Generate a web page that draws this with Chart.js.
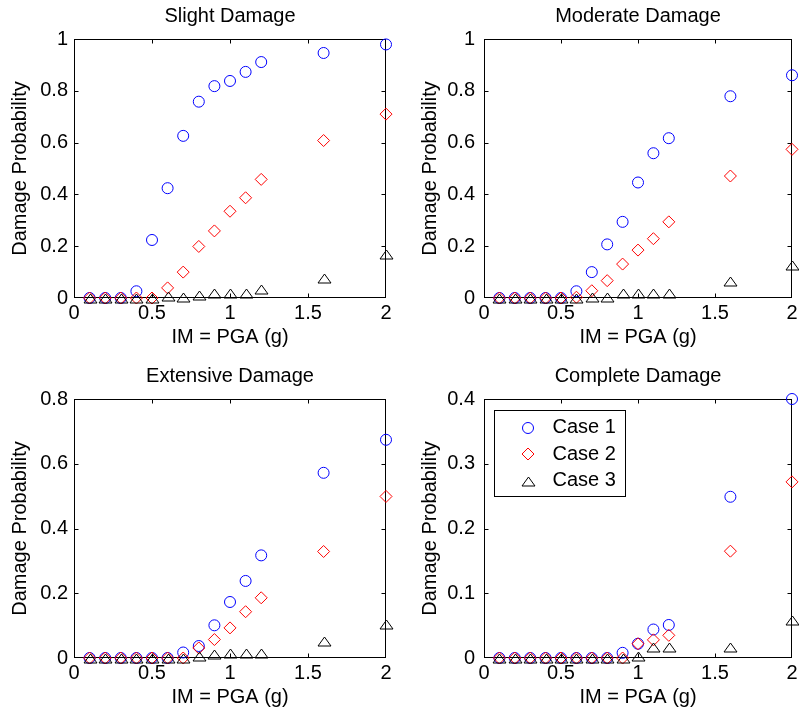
<!DOCTYPE html>
<html lang="en">
<head>
    <meta charset="UTF-8">
    <title>Damage Probability vs IM</title>
    <script src="https://cdn.jsdelivr.net/npm/chart.js"></script>
    <style>
        * { margin: 0; padding: 0; box-sizing: border-box; }
        body {
            background: #fff;
            width: 799px;
            height: 713px;
            overflow: hidden;
            position: relative;
        }
        .panel { position: absolute; }
    </style>
</head>
<body>
    <div class="panel" style="left:0;top:0"><canvas id="slight" width="400" height="360"></canvas></div>
    <div class="panel" style="left:410px;top:0"><canvas id="moderate" width="389" height="360"></canvas></div>
    <div class="panel" style="left:0;top:360px"><canvas id="extensive" width="400" height="360"></canvas></div>
    <div class="panel" style="left:410px;top:360px"><canvas id="complete" width="389" height="360"></canvas></div>

    <script>
        // IM = PGA values (g)
        const pga = [0.1, 0.2, 0.3, 0.4, 0.5, 0.6, 0.7, 0.8, 0.9, 1.0, 1.1, 1.2, 1.6, 2.0];
        const caseNames = ['Case 1', 'Case 2', 'Case 3'];

        // Slight damage
        const slightCase1 = [0, 0, 0, 0.026, 0.224, 0.424, 0.626, 0.758, 0.818, 0.838, 0.873, 0.911, 0.946, 0.979];
        const slightCase2 = [0, 0, 0, 0, 0, 0.039, 0.10, 0.199, 0.259, 0.335, 0.387, 0.458, 0.608, 0.71];
        const slightCase3 = [0, 0, 0, 0, 0, 0.008, 0.004, 0.012, 0.018, 0.018, 0.018, 0.033, 0.076, 0.168];

        // Moderate damage
        const moderateCase1 = [0, 0, 0, 0, 0, 0.026, 0.10, 0.207, 0.294, 0.446, 0.559, 0.617, 0.779, 0.86];
        const moderateCase2 = [0, 0, 0, 0, 0, 0.003, 0.028, 0.067, 0.131, 0.185, 0.229, 0.294, 0.471, 0.574];
        const moderateCase3 = [0, 0, 0, 0, 0, 0.001, 0.003, 0.003, 0.018, 0.018, 0.018, 0.018, 0.065, 0.129];

        // Extensive damage
        const extensiveCase1 = [0, 0, 0, 0, 0, 0, 0.017, 0.037, 0.101, 0.173, 0.238, 0.317, 0.572, 0.674];
        const extensiveCase2 = [0, 0, 0, 0, 0, 0, 0, 0.031, 0.057, 0.093, 0.143, 0.186, 0.329, 0.499];
        const extensiveCase3 = [0, 0, 0, 0, 0, 0, 0.001, 0.005, 0.012, 0.016, 0.016, 0.016, 0.054, 0.104];

        // Complete damage
        const completeCase1 = [0, 0, 0, 0, 0, 0, 0, 0, 0.008, 0.022, 0.044, 0.051, 0.249, 0.4];
        const completeCase2 = [0, 0, 0, 0, 0, 0, 0, 0, 0, 0.022, 0.028, 0.035, 0.165, 0.272];
        const completeCase3 = [0, 0, 0, 0, 0, 0, 0, 0, 0, 0.003, 0.017, 0.017, 0.017, 0.058];

        // x ticks
        const xTicks = [0, 0.5, 1, 1.5, 2];

        Chart.defaults.font.family = "'Liberation Sans', Arial, sans-serif";
        Chart.defaults.font.size = 20;
        Chart.defaults.color = '#000';

        const markers = [
            { style: 'circle', radius: 5.5, color: '#0000ff' },
            { style: 'rectRot', radius: 6, color: '#ff0000' },
            { style: 'tri', radius: 0, color: '#000000' }
        ];

        // MATLAB-like '^' marker: wider than tall, centred on its box
        function drawTriangle(ctx, x, y) {
            const cx = Math.round(x) + 0.5, cy = Math.round(y) + 0.5;
            ctx.beginPath();
            ctx.moveTo(cx, cy - 4.5);
            ctx.lineTo(cx + 6.5, cy + 4.5);
            ctx.lineTo(cx - 6.5, cy + 4.5);
            ctx.closePath();
            ctx.stroke();
        }

        // box, inward ticks, triangles, subplot title, optional legend
        const framePlugin = {
            id: 'frame',
            beforeDatasetsDraw(chart) {
                const { ctx, chartArea: a, scales } = chart;
                const L = Math.round(a.left) + 0.5, R = Math.round(a.right) - 0.5;
                const T = Math.round(a.top) + 0.5, B = Math.round(a.bottom) - 0.5;
                ctx.save();
                ctx.strokeStyle = '#000';
                ctx.lineWidth = 1;
                ctx.strokeRect(L, T, R - L, B - T);
                ctx.beginPath();
                scales.x.ticks.forEach(t => {
                    const px = Math.round(scales.x.getPixelForValue(t.value)) + 0.5;
                    if (px <= L + 1 || px >= R - 1) return;
                    ctx.moveTo(px, B); ctx.lineTo(px, B - 4);
                    ctx.moveTo(px, T); ctx.lineTo(px, T + 4);
                });
                scales.y.ticks.forEach(t => {
                    const py = Math.round(scales.y.getPixelForValue(t.value)) + 0.5;
                    if (py <= T + 1 || py >= B - 1) return;
                    ctx.moveTo(L, py); ctx.lineTo(L + 4, py);
                    ctx.moveTo(R, py); ctx.lineTo(R - 4, py);
                });
                ctx.stroke();
                ctx.restore();
            },
            afterDatasetsDraw(chart) {
                const ctx = chart.ctx;
                ctx.save();
                ctx.lineWidth = 1;
                chart.data.datasets.forEach((ds, i) => {
                    if (ds.triangle) {
                        ctx.strokeStyle = markers[2].color;
                        chart.getDatasetMeta(i).data.forEach(el => drawTriangle(ctx, el.x, el.y));
                    }
                });
                ctx.restore();
            },
            afterDraw(chart, args, opts) {
                const { ctx, chartArea: a } = chart;
                ctx.save();
                ctx.fillStyle = '#000';
                ctx.font = "20px 'Liberation Sans', Arial, sans-serif";
                ctx.textAlign = 'center';
                ctx.textBaseline = 'middle';
                ctx.fillText(opts.text, (a.left + a.right) / 2, a.top - 23);

                if (opts.legend) {
                    const bx = Math.round(a.left) + 10.5, by = Math.round(a.top) + 11.5;
                    ctx.strokeStyle = '#000';
                    ctx.lineWidth = 1;
                    ctx.strokeRect(bx, by, 131, 86);
                    ctx.textAlign = 'left';
                    caseNames.forEach((name, i) => {
                        const y = by + 17 + i * 26.5;
                        const m = markers[i];
                        const mx = Math.round(bx + 33), my = Math.round(y);
                        ctx.strokeStyle = m.color;
                        if (m.style === 'tri') {
                            drawTriangle(ctx, mx, my);
                        } else {
                            ctx.fillStyle = 'rgba(0,0,0,0)';
                            Chart.helpers.drawPoint(ctx, { pointStyle: m.style, radius: m.radius, borderWidth: 1, rotation: 0 }, mx, my);
                        }
                        ctx.fillStyle = '#000';
                        ctx.fillText(name, bx + 58, y);
                    });
                }
                ctx.restore();
            }
        };

        function makeChart(id, title, yMax, yStep, series, isRight, showLegend) {
            const datasets = series.map((vals, i) => ({
                label: caseNames[i],
                data: pga.map((x, k) => ({ x: x, y: vals[k] })),
                showLine: false,
                triangle: markers[i].style === 'tri',
                pointStyle: markers[i].style === 'tri' ? false : markers[i].style,
                pointRadius: markers[i].radius,
                pointHoverRadius: markers[i].radius,
                pointBorderWidth: 1,
                pointBorderColor: markers[i].color,
                pointBackgroundColor: 'rgba(0,0,0,0)',
                order: 3 - i,
                clip: false
            }));

            new Chart(document.getElementById(id), {
                type: 'scatter',
                data: { datasets },
                plugins: [framePlugin],
                options: {
                    responsive: false,
                    animation: false,
                    events: [],
                    layout: { padding: { top: 39, right: isRight ? 6 : 14, left: 0, bottom: 0 } },
                    plugins: {
                        legend: { display: false },
                        tooltip: { enabled: false },
                        frame: { text: title, legend: showLegend }
                    },
                    scales: {
                        x: {
                            type: 'linear',
                            min: 0, max: 2,
                            afterBuildTicks: s => { s.ticks = xTicks.map(v => ({ value: v })); },
                            afterFit: s => { s.height = 62; s.paddingLeft = 0; s.paddingRight = 0; },
                            grid: { display: false, drawTicks: false },
                            border: { display: false },
                            ticks: { padding: 3, maxRotation: 0, autoSkip: false, callback: v => String(v) },
                            title: { display: true, text: 'IM = PGA (g)', padding: { top: 0, bottom: 11 } }
                        },
                        y: {
                            min: 0, max: yMax,
                            afterFit: s => { s.width = 74; s.paddingTop = 0; s.paddingBottom = 0; },
                            grid: { display: false, drawTicks: false },
                            border: { display: false },
                            ticks: {
                                stepSize: yStep,
                                padding: isRight ? 9 : 6,
                                callback: v => String(Math.round(v * 100) / 100)
                            },
                            title: { display: true, text: 'Damage Probability', padding: { top: 8, bottom: 0 } }
                        }
                    }
                }
            });
        }

        makeChart('slight', 'Slight Damage', 1, 0.2, [slightCase1, slightCase2, slightCase3], false, false);
        makeChart('moderate', 'Moderate Damage', 1, 0.2, [moderateCase1, moderateCase2, moderateCase3], true, false);
        makeChart('extensive', 'Extensive Damage', 0.8, 0.2, [extensiveCase1, extensiveCase2, extensiveCase3], false, false);
        makeChart('complete', 'Complete Damage', 0.4, 0.1, [completeCase1, completeCase2, completeCase3], true, true);
    </script>
</body>
</html>
